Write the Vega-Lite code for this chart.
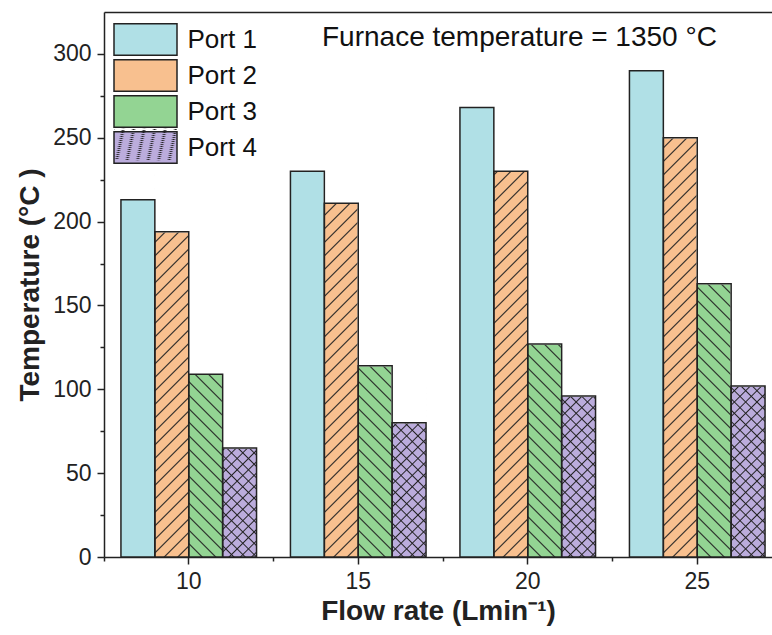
{
  "$schema": "https://vega.github.io/schema/vega-lite/v6.json",
  "width": 668,
  "height": 545,
  "autosize": {"type": "none"},
  "padding": {"left": 104, "top": 12, "right": 0, "bottom": 78},
  "background": "white",
  "config": {
    "font": "Liberation Sans",
    "view": {"stroke": null},
    "axis": {"domainColor": "#222", "tickColor": "#222", "labelColor": "#222", "titleColor": "#222", "domainWidth": 1.5, "tickWidth": 1.5, "grid": false, "labelFont": "Liberation Sans", "titleFont": "Liberation Sans"}
  },
  "title": {"text": "Furnace temperature = 1350 °C", "orient": "top", "anchor": "start", "frame": "group", "offset": 0, "dx": 218, "dy": 62, "baseline": "alphabetic", "fontSize": 28, "fontWeight": "normal", "font": "Liberation Sans", "color": "#111"},
  "data": {"values": [
    {"flow": 10, "port": "Port 1", "temp": 213},
    {"flow": 10, "port": "Port 2", "temp": 194},
    {"flow": 10, "port": "Port 3", "temp": 109},
    {"flow": 10, "port": "Port 4", "temp": 65},
    {"flow": 15, "port": "Port 1", "temp": 230},
    {"flow": 15, "port": "Port 2", "temp": 211},
    {"flow": 15, "port": "Port 3", "temp": 114},
    {"flow": 15, "port": "Port 4", "temp": 80},
    {"flow": 20, "port": "Port 1", "temp": 268},
    {"flow": 20, "port": "Port 2", "temp": 230},
    {"flow": 20, "port": "Port 3", "temp": 127},
    {"flow": 20, "port": "Port 4", "temp": 96},
    {"flow": 25, "port": "Port 1", "temp": 290},
    {"flow": 25, "port": "Port 2", "temp": 250},
    {"flow": 25, "port": "Port 3", "temp": 163},
    {"flow": 25, "port": "Port 4", "temp": 102}
  ]},
  "layer": [
    {
      "mark": {"type": "bar", "strokeWidth": 0},
      "encoding": {
        "x": {"field": "flow", "type": "ordinal", "scale": {"paddingInner": 0.2, "paddingOuter": 0.0705, "align": 0.709}, "axis": {"orient": "top", "labels": false, "ticks": false, "title": null, "domain": true}},
        "xOffset": {"field": "port", "type": "nominal", "scale": {"paddingInner": 0, "paddingOuter": 0}},
        "y": {"field": "temp", "type": "quantitative", "scale": {"domain": [0, 325], "nice": false}, "axis": null},
        "color": {"field": "port", "type": "nominal", "scale": {"domain": ["Port 1", "Port 2", "Port 3", "Port 4"], "range": ["#b0e0e6", "#f8c08f", "#93d493", "#bbacdc"]},
          "legend": {"title": null, "orient": "none", "legendX": 25, "legendY": 11, "symbolType": "M-2,-1H2V1H-2Z", "symbolSize": 992.25, "symbolStrokeColor": "#222", "symbolStrokeWidth": 1.5, "symbolOpacity": 1, "labelFontSize": 26, "labelFont": "Liberation Sans", "labelColor": "#111", "labelOffset": 25.5, "rowPadding": -3.8, "padding": 0, "labelLimit": 300,
            "encode": {"symbols": {"update": {"stroke": {"value": "#222"}, "strokeWidth": {"value": 1.5}, "opacity": {"value": 1}, "fill": {"signal": "datum.value === 'Port 1' ? '#b0e0e6' : {gradient: 'linear', x1: 0, y1: datum.value === 'Port 3' ? 1 : 0, x2: 1.2, y2: datum.value === 'Port 3' ? 0.4 : 0.6, stops: [{offset: 0.1217, color: scale('color', datum.value)}, {offset: 0.1376, color: '#222'}, {offset: 0.1534, color: scale('color', datum.value)}, {offset: 0.2593, color: scale('color', datum.value)}, {offset: 0.2751, color: '#222'}, {offset: 0.2910, color: scale('color', datum.value)}, {offset: 0.3968, color: scale('color', datum.value)}, {offset: 0.4127, color: '#222'}, {offset: 0.4286, color: scale('color', datum.value)}, {offset: 0.5344, color: scale('color', datum.value)}, {offset: 0.5503, color: '#222'}, {offset: 0.5661, color: scale('color', datum.value)}, {offset: 0.6720, color: scale('color', datum.value)}, {offset: 0.6878, color: '#222'}, {offset: 0.7037, color: scale('color', datum.value)}, {offset: 0.8095, color: scale('color', datum.value)}, {offset: 0.8254, color: '#222'}, {offset: 0.8413, color: scale('color', datum.value)}, {offset: 0.9471, color: scale('color', datum.value)}, {offset: 0.9630, color: '#222'}, {offset: 0.9788, color: scale('color', datum.value)}]}"}}}}}
        }
      }
    },
    {
      "transform": [{"filter": "datum.port === 'Port 2'"}],
      "mark": {"type": "bar", "strokeWidth": 0, "fill": {"gradient": "linear", "x1": 0, "y1": 0, "x2": 0.0861, "y2": 1.07332, "stops": [
        {"offset": 0.02629, "color": "#2220"}, {"offset": 0.02957, "color": "#222"}, {"offset": 0.03286, "color": "#2220"},
        {"offset": 0.05586, "color": "#2220"}, {"offset": 0.05915, "color": "#222"}, {"offset": 0.06243, "color": "#2220"},
        {"offset": 0.08544, "color": "#2220"}, {"offset": 0.08872, "color": "#222"}, {"offset": 0.09201, "color": "#2220"},
        {"offset": 0.11501, "color": "#2220"}, {"offset": 0.11830, "color": "#222"}, {"offset": 0.12158, "color": "#2220"},
        {"offset": 0.14458, "color": "#2220"}, {"offset": 0.14787, "color": "#222"}, {"offset": 0.15116, "color": "#2220"},
        {"offset": 0.17416, "color": "#2220"}, {"offset": 0.17744, "color": "#222"}, {"offset": 0.18073, "color": "#2220"},
        {"offset": 0.20373, "color": "#2220"}, {"offset": 0.20702, "color": "#222"}, {"offset": 0.21030, "color": "#2220"},
        {"offset": 0.23331, "color": "#2220"}, {"offset": 0.23659, "color": "#222"}, {"offset": 0.23988, "color": "#2220"},
        {"offset": 0.26288, "color": "#2220"}, {"offset": 0.26617, "color": "#222"}, {"offset": 0.26945, "color": "#2220"},
        {"offset": 0.29245, "color": "#2220"}, {"offset": 0.29574, "color": "#222"}, {"offset": 0.29903, "color": "#2220"},
        {"offset": 0.32203, "color": "#2220"}, {"offset": 0.32531, "color": "#222"}, {"offset": 0.32860, "color": "#2220"},
        {"offset": 0.35160, "color": "#2220"}, {"offset": 0.35489, "color": "#222"}, {"offset": 0.35817, "color": "#2220"},
        {"offset": 0.38118, "color": "#2220"}, {"offset": 0.38446, "color": "#222"}, {"offset": 0.38775, "color": "#2220"},
        {"offset": 0.41075, "color": "#2220"}, {"offset": 0.41404, "color": "#222"}, {"offset": 0.41732, "color": "#2220"},
        {"offset": 0.44032, "color": "#2220"}, {"offset": 0.44361, "color": "#222"}, {"offset": 0.44690, "color": "#2220"},
        {"offset": 0.46990, "color": "#2220"}, {"offset": 0.47318, "color": "#222"}, {"offset": 0.47647, "color": "#2220"},
        {"offset": 0.49947, "color": "#2220"}, {"offset": 0.50276, "color": "#222"}, {"offset": 0.50604, "color": "#2220"},
        {"offset": 0.52905, "color": "#2220"}, {"offset": 0.53233, "color": "#222"}, {"offset": 0.53562, "color": "#2220"},
        {"offset": 0.55862, "color": "#2220"}, {"offset": 0.56191, "color": "#222"}, {"offset": 0.56519, "color": "#2220"},
        {"offset": 0.58819, "color": "#2220"}, {"offset": 0.59148, "color": "#222"}, {"offset": 0.59477, "color": "#2220"},
        {"offset": 0.61777, "color": "#2220"}, {"offset": 0.62105, "color": "#222"}, {"offset": 0.62434, "color": "#2220"},
        {"offset": 0.64734, "color": "#2220"}, {"offset": 0.65063, "color": "#222"}, {"offset": 0.65391, "color": "#2220"},
        {"offset": 0.67692, "color": "#2220"}, {"offset": 0.68020, "color": "#222"}, {"offset": 0.68349, "color": "#2220"},
        {"offset": 0.70649, "color": "#2220"}, {"offset": 0.70978, "color": "#222"}, {"offset": 0.71306, "color": "#2220"},
        {"offset": 0.73606, "color": "#2220"}, {"offset": 0.73935, "color": "#222"}, {"offset": 0.74264, "color": "#2220"},
        {"offset": 0.76564, "color": "#2220"}, {"offset": 0.76892, "color": "#222"}, {"offset": 0.77221, "color": "#2220"},
        {"offset": 0.79521, "color": "#2220"}, {"offset": 0.79850, "color": "#222"}, {"offset": 0.80178, "color": "#2220"},
        {"offset": 0.82479, "color": "#2220"}, {"offset": 0.82807, "color": "#222"}, {"offset": 0.83136, "color": "#2220"},
        {"offset": 0.85436, "color": "#2220"}, {"offset": 0.85765, "color": "#222"}, {"offset": 0.86093, "color": "#2220"},
        {"offset": 0.88393, "color": "#2220"}, {"offset": 0.88722, "color": "#222"}, {"offset": 0.89051, "color": "#2220"},
        {"offset": 0.91351, "color": "#2220"}, {"offset": 0.91679, "color": "#222"}, {"offset": 0.92008, "color": "#2220"},
        {"offset": 0.94308, "color": "#2220"}, {"offset": 0.94637, "color": "#222"}, {"offset": 0.94965, "color": "#2220"},
        {"offset": 0.97266, "color": "#2220"}, {"offset": 0.97594, "color": "#222"}, {"offset": 0.97923, "color": "#2220"}
      ]}},
      "encoding": {
        "x": {"field": "flow", "type": "ordinal", "axis": null},
        "xOffset": {"field": "port", "type": "nominal"},
        "y": {"datum": 252, "type": "quantitative", "scale": {"domain": [0, 325], "nice": false}, "axis": null},
        "y2": {"datum": 0}
      }
    },
    {
      "transform": [{"filter": "datum.port === 'Port 3'"}],
      "mark": {"type": "bar", "strokeWidth": 0, "fill": {"gradient": "linear", "x1": 0, "y1": 1, "x2": 0.1355, "y2": -0.10592, "stops": [
        {"offset": 0.03864, "color": "#2220"}, {"offset": 0.04347, "color": "#222"}, {"offset": 0.04830, "color": "#2220"},
        {"offset": 0.08210, "color": "#2220"}, {"offset": 0.08693, "color": "#222"}, {"offset": 0.09176, "color": "#2220"},
        {"offset": 0.12557, "color": "#2220"}, {"offset": 0.13040, "color": "#222"}, {"offset": 0.13523, "color": "#2220"},
        {"offset": 0.16903, "color": "#2220"}, {"offset": 0.17386, "color": "#222"}, {"offset": 0.17869, "color": "#2220"},
        {"offset": 0.21250, "color": "#2220"}, {"offset": 0.21733, "color": "#222"}, {"offset": 0.22216, "color": "#2220"},
        {"offset": 0.25597, "color": "#2220"}, {"offset": 0.26080, "color": "#222"}, {"offset": 0.26563, "color": "#2220"},
        {"offset": 0.29943, "color": "#2220"}, {"offset": 0.30426, "color": "#222"}, {"offset": 0.30909, "color": "#2220"},
        {"offset": 0.34290, "color": "#2220"}, {"offset": 0.34773, "color": "#222"}, {"offset": 0.35256, "color": "#2220"},
        {"offset": 0.38636, "color": "#2220"}, {"offset": 0.39119, "color": "#222"}, {"offset": 0.39602, "color": "#2220"},
        {"offset": 0.42983, "color": "#2220"}, {"offset": 0.43466, "color": "#222"}, {"offset": 0.43949, "color": "#2220"},
        {"offset": 0.47330, "color": "#2220"}, {"offset": 0.47813, "color": "#222"}, {"offset": 0.48296, "color": "#2220"},
        {"offset": 0.51676, "color": "#2220"}, {"offset": 0.52159, "color": "#222"}, {"offset": 0.52642, "color": "#2220"},
        {"offset": 0.56023, "color": "#2220"}, {"offset": 0.56506, "color": "#222"}, {"offset": 0.56989, "color": "#2220"},
        {"offset": 0.60369, "color": "#2220"}, {"offset": 0.60852, "color": "#222"}, {"offset": 0.61335, "color": "#2220"},
        {"offset": 0.64716, "color": "#2220"}, {"offset": 0.65199, "color": "#222"}, {"offset": 0.65682, "color": "#2220"},
        {"offset": 0.69063, "color": "#2220"}, {"offset": 0.69546, "color": "#222"}, {"offset": 0.70029, "color": "#2220"},
        {"offset": 0.73409, "color": "#2220"}, {"offset": 0.73892, "color": "#222"}, {"offset": 0.74375, "color": "#2220"},
        {"offset": 0.77756, "color": "#2220"}, {"offset": 0.78239, "color": "#222"}, {"offset": 0.78722, "color": "#2220"},
        {"offset": 0.82102, "color": "#2220"}, {"offset": 0.82585, "color": "#222"}, {"offset": 0.83068, "color": "#2220"},
        {"offset": 0.86449, "color": "#2220"}, {"offset": 0.86932, "color": "#222"}, {"offset": 0.87415, "color": "#2220"},
        {"offset": 0.90796, "color": "#2220"}, {"offset": 0.91279, "color": "#222"}, {"offset": 0.91762, "color": "#2220"},
        {"offset": 0.95142, "color": "#2220"}, {"offset": 0.95625, "color": "#222"}, {"offset": 0.96108, "color": "#2220"}
      ]}},
      "encoding": {
        "x": {"field": "flow", "type": "ordinal", "axis": null},
        "xOffset": {"field": "port", "type": "nominal"},
        "y": {"datum": 165, "type": "quantitative", "scale": {"domain": [0, 325], "nice": false}, "axis": null},
        "y2": {"datum": 0}
      }
    },
    {
      "transform": [{"filter": "datum.port === 'Port 4'"}],
      "mark": {"type": "bar", "strokeWidth": 0, "fill": {"gradient": "linear", "x1": 0, "y1": 0, "x2": 0.22371, "y2": 1.1509, "stops": [
        {"offset": 0.04753, "color": "#2220"}, {"offset": 0.05425, "color": "#222"}, {"offset": 0.06097, "color": "#2220"},
        {"offset": 0.10178, "color": "#2220"}, {"offset": 0.10850, "color": "#222"}, {"offset": 0.11522, "color": "#2220"},
        {"offset": 0.15603, "color": "#2220"}, {"offset": 0.16275, "color": "#222"}, {"offset": 0.16947, "color": "#2220"},
        {"offset": 0.21028, "color": "#2220"}, {"offset": 0.21700, "color": "#222"}, {"offset": 0.22372, "color": "#2220"},
        {"offset": 0.26452, "color": "#2220"}, {"offset": 0.27125, "color": "#222"}, {"offset": 0.27797, "color": "#2220"},
        {"offset": 0.31877, "color": "#2220"}, {"offset": 0.32549, "color": "#222"}, {"offset": 0.33222, "color": "#2220"},
        {"offset": 0.37302, "color": "#2220"}, {"offset": 0.37974, "color": "#222"}, {"offset": 0.38646, "color": "#2220"},
        {"offset": 0.42727, "color": "#2220"}, {"offset": 0.43399, "color": "#222"}, {"offset": 0.44071, "color": "#2220"},
        {"offset": 0.48152, "color": "#2220"}, {"offset": 0.48824, "color": "#222"}, {"offset": 0.49496, "color": "#2220"},
        {"offset": 0.53577, "color": "#2220"}, {"offset": 0.54249, "color": "#222"}, {"offset": 0.54921, "color": "#2220"},
        {"offset": 0.59002, "color": "#2220"}, {"offset": 0.59674, "color": "#222"}, {"offset": 0.60346, "color": "#2220"},
        {"offset": 0.64427, "color": "#2220"}, {"offset": 0.65099, "color": "#222"}, {"offset": 0.65771, "color": "#2220"},
        {"offset": 0.69852, "color": "#2220"}, {"offset": 0.70524, "color": "#222"}, {"offset": 0.71196, "color": "#2220"},
        {"offset": 0.75276, "color": "#2220"}, {"offset": 0.75949, "color": "#222"}, {"offset": 0.76621, "color": "#2220"},
        {"offset": 0.80701, "color": "#2220"}, {"offset": 0.81374, "color": "#222"}, {"offset": 0.82046, "color": "#2220"},
        {"offset": 0.86126, "color": "#2220"}, {"offset": 0.86798, "color": "#222"}, {"offset": 0.87471, "color": "#2220"},
        {"offset": 0.91551, "color": "#2220"}, {"offset": 0.92223, "color": "#222"}, {"offset": 0.92895, "color": "#2220"},
        {"offset": 0.96976, "color": "#2220"}, {"offset": 0.97648, "color": "#222"}, {"offset": 0.98320, "color": "#2220"}
      ]}},
      "encoding": {
        "x": {"field": "flow", "type": "ordinal", "axis": null},
        "xOffset": {"field": "port", "type": "nominal"},
        "y": {"datum": 104, "type": "quantitative", "scale": {"domain": [0, 325], "nice": false}, "axis": null},
        "y2": {"datum": 0}
      }
    },
    {
      "transform": [{"filter": "datum.port === 'Port 4'"}],
      "mark": {"type": "bar", "strokeWidth": 0, "fill": {"gradient": "linear", "x1": 0, "y1": 1, "x2": 0.22371, "y2": -0.1509, "stops": [
        {"offset": 0.04753, "color": "#2220"}, {"offset": 0.05425, "color": "#222"}, {"offset": 0.06097, "color": "#2220"},
        {"offset": 0.10178, "color": "#2220"}, {"offset": 0.10850, "color": "#222"}, {"offset": 0.11522, "color": "#2220"},
        {"offset": 0.15603, "color": "#2220"}, {"offset": 0.16275, "color": "#222"}, {"offset": 0.16947, "color": "#2220"},
        {"offset": 0.21028, "color": "#2220"}, {"offset": 0.21700, "color": "#222"}, {"offset": 0.22372, "color": "#2220"},
        {"offset": 0.26452, "color": "#2220"}, {"offset": 0.27125, "color": "#222"}, {"offset": 0.27797, "color": "#2220"},
        {"offset": 0.31877, "color": "#2220"}, {"offset": 0.32549, "color": "#222"}, {"offset": 0.33222, "color": "#2220"},
        {"offset": 0.37302, "color": "#2220"}, {"offset": 0.37974, "color": "#222"}, {"offset": 0.38646, "color": "#2220"},
        {"offset": 0.42727, "color": "#2220"}, {"offset": 0.43399, "color": "#222"}, {"offset": 0.44071, "color": "#2220"},
        {"offset": 0.48152, "color": "#2220"}, {"offset": 0.48824, "color": "#222"}, {"offset": 0.49496, "color": "#2220"},
        {"offset": 0.53577, "color": "#2220"}, {"offset": 0.54249, "color": "#222"}, {"offset": 0.54921, "color": "#2220"},
        {"offset": 0.59002, "color": "#2220"}, {"offset": 0.59674, "color": "#222"}, {"offset": 0.60346, "color": "#2220"},
        {"offset": 0.64427, "color": "#2220"}, {"offset": 0.65099, "color": "#222"}, {"offset": 0.65771, "color": "#2220"},
        {"offset": 0.69852, "color": "#2220"}, {"offset": 0.70524, "color": "#222"}, {"offset": 0.71196, "color": "#2220"},
        {"offset": 0.75276, "color": "#2220"}, {"offset": 0.75949, "color": "#222"}, {"offset": 0.76621, "color": "#2220"},
        {"offset": 0.80701, "color": "#2220"}, {"offset": 0.81374, "color": "#222"}, {"offset": 0.82046, "color": "#2220"},
        {"offset": 0.86126, "color": "#2220"}, {"offset": 0.86798, "color": "#222"}, {"offset": 0.87471, "color": "#2220"},
        {"offset": 0.91551, "color": "#2220"}, {"offset": 0.92223, "color": "#222"}, {"offset": 0.92895, "color": "#2220"},
        {"offset": 0.96976, "color": "#2220"}, {"offset": 0.97648, "color": "#222"}, {"offset": 0.98320, "color": "#2220"}
      ]}},
      "encoding": {
        "x": {"field": "flow", "type": "ordinal", "axis": null},
        "xOffset": {"field": "port", "type": "nominal"},
        "y": {"datum": 104, "type": "quantitative", "scale": {"domain": [0, 325], "nice": false}, "axis": null},
        "y2": {"datum": 0},
        "strokeDash": {"field": "port", "type": "nominal", "scale": {"domain": ["Port 4"], "range": [[1, 0]]},
          "legend": {"title": null, "orient": "none", "legendX": 25, "legendY": 116, "symbolType": "M-2,-1H2V1H-2Z", "symbolSize": 992.25, "labelFontSize": 26, "labelFont": "Liberation Sans", "labelExpr": "''", "labelOffset": 25.5, "rowPadding": -3.8, "padding": 0, "labelLimit": 300,
            "encode": {"symbols": {"update": {"stroke": {"value": "transparent"}, "strokeWidth": {"value": 0}, "opacity": {"value": 1}, "fill": {"value": {"gradient": "linear", "x1": 0, "y1": 1, "x2": 1.2, "y2": 0.4, "stops": [
              {"offset": 0.1217, "color": "#2220"}, {"offset": 0.1376, "color": "#222"}, {"offset": 0.1534, "color": "#2220"},
              {"offset": 0.2593, "color": "#2220"}, {"offset": 0.2751, "color": "#222"}, {"offset": 0.2910, "color": "#2220"},
              {"offset": 0.3968, "color": "#2220"}, {"offset": 0.4127, "color": "#222"}, {"offset": 0.4286, "color": "#2220"},
              {"offset": 0.5344, "color": "#2220"}, {"offset": 0.5503, "color": "#222"}, {"offset": 0.5661, "color": "#2220"},
              {"offset": 0.6720, "color": "#2220"}, {"offset": 0.6878, "color": "#222"}, {"offset": 0.7037, "color": "#2220"},
              {"offset": 0.8095, "color": "#2220"}, {"offset": 0.8254, "color": "#222"}, {"offset": 0.8413, "color": "#2220"},
              {"offset": 0.9471, "color": "#2220"}, {"offset": 0.9630, "color": "#222"}, {"offset": 0.9788, "color": "#2220"}
            ]}}}}}}
        }
      }
    },
    {
      "transform": [{"filter": "datum.port !== 'Port 1'"}],
      "mark": {"type": "bar", "fill": "white", "stroke": "white", "strokeWidth": 1.5},
      "encoding": {
        "x": {"field": "flow", "type": "ordinal", "axis": {"orient": "bottom", "labels": false, "domain": false, "title": null, "bandPosition": 0, "tickOffset": -16.95, "tickSize": 4}},
        "xOffset": {"field": "port", "type": "nominal"},
        "y": {"field": "temp", "type": "quantitative", "scale": {"domain": [0, 325], "nice": false}, "axis": {"orient": "left", "values": [25, 75, 125, 175, 225, 275], "labels": false, "domain": false, "title": null, "tickSize": 4}},
        "y2": {"datum": 252}
      }
    },
    {
      "mark": {"type": "bar", "fillOpacity": 0, "stroke": "#222", "strokeWidth": 1.5},
      "encoding": {
        "x": {"field": "flow", "type": "ordinal", "axis": {"orient": "bottom", "title": "Flow rate (Lmin⁻¹)", "titleFontSize": 28, "titleFontWeight": "bold", "titlePadding": 4, "labelFontSize": 23, "labelPadding": 6, "tickSize": 7, "labelAngle": 0}},
        "xOffset": {"field": "port", "type": "nominal"},
        "y": {"field": "temp", "type": "quantitative", "scale": {"domain": [0, 325], "nice": false}, "axis": {"orient": "left", "values": [0, 50, 100, 150, 200, 250, 300], "title": "Temperature (°C )", "titleFontSize": 28, "titleFontWeight": "bold", "titlePadding": 8, "labelFontSize": 23, "labelPadding": 6, "tickSize": 7}}
      }
    }
  ],
  "resolve": {"axis": {"x": "independent", "y": "independent"}}
}
